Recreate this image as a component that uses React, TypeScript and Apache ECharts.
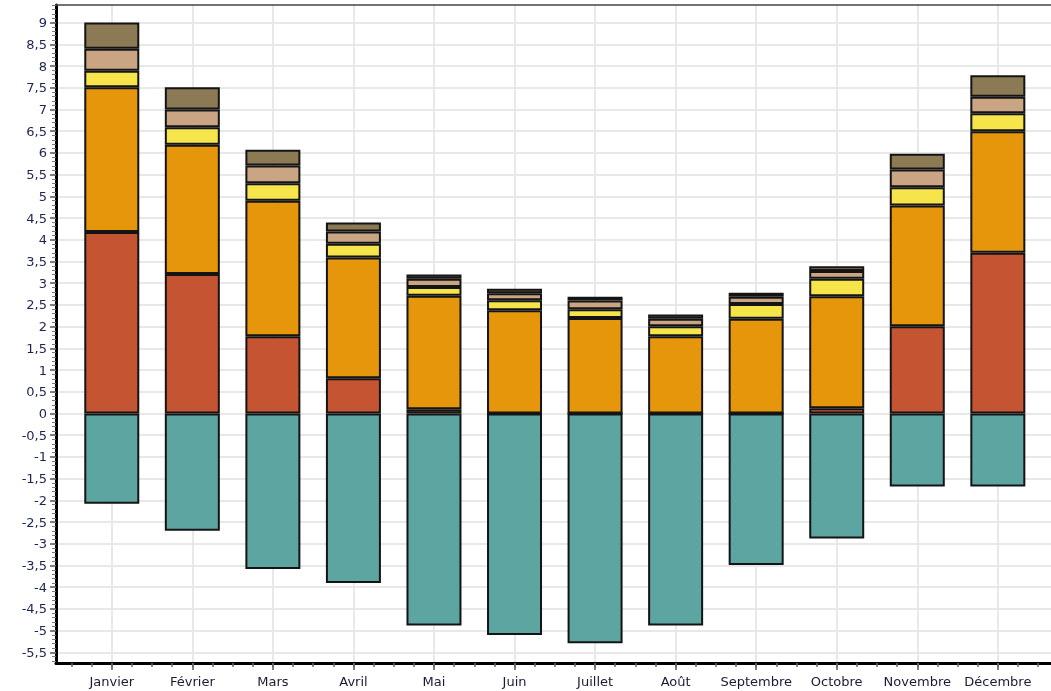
import React, { useEffect, useRef } from "react";
import * as echarts from "echarts";

const months = ["Janvier", "Février", "Mars", "Avril", "Mai", "Juin", "Juillet", "Août", "Septembre", "Octobre", "Novembre", "Décembre"];
const redValues = [4.18, 3.21, 1.78, 0.81, 0.10, 0, 0, 0, 0, 0.12, 2.01, 3.70];
const orangeValues = [3.33, 2.98, 3.12, 2.78, 2.61, 2.38, 2.20, 1.78, 2.18, 2.58, 2.78, 2.80];
const yellowValues = [0.38, 0.40, 0.40, 0.32, 0.20, 0.23, 0.20, 0.23, 0.34, 0.40, 0.42, 0.41];
const tanValues = [0.51, 0.41, 0.41, 0.28, 0.19, 0.16, 0.20, 0.17, 0.17, 0.18, 0.41, 0.38];
const oliveValues = [0.60, 0.51, 0.36, 0.21, 0.10, 0.10, 0.09, 0.10, 0.09, 0.11, 0.36, 0.50];
const tealValues = [-2.08, -2.70, -3.58, -3.90, -4.88, -5.10, -5.29, -4.88, -3.49, -2.88, -1.68, -1.68];
const yTicks = [-5.5, -5, -4.5, -4, -3.5, -3, -2.5, -2, -1.5, -1, -0.5, 0, 0.5, 1, 1.5, 2, 2.5, 3, 3.5, 4, 4.5, 5, 5.5, 6, 6.5, 7, 7.5, 8, 8.5, 9];

const FONT = "DejaVu Sans";

export default function App() {
  const ref = useRef<HTMLDivElement>(null);
  useEffect(() => {
    document.body.style.margin = "0";
    const chart = echarts.init(ref.current!, null, { renderer: "svg" });
    const xMajor = months.map((_, i) => i);
    const xMinor: number[] = [];
    for (let i = -2; i <= 47; i++) xMinor.push(i / 4);
    const yMinor: number[] = [];
    for (let i = -57; i <= 94; i++) yMinor.push(i / 10);

    const border = { borderColor: "#141414", borderWidth: 2 };
    const bar = (name: string, vals: number[], color: string) => ({
      type: "bar",
      name,
      stack: "all",
      stackStrategy: "samesign",
      barWidth: 55,
      xAxisIndex: 2,
      yAxisIndex: 2,
      data: vals,
      itemStyle: { ...border, color },
    });
    const series: any[] = [
      bar("r", redValues, "#c55433"),
      bar("o", orangeValues, "#e5960a"),
      bar("y", yellowValues, "#f5e54a"),
      bar("t", tanValues, "#c9a584"),
      bar("ol", oliveValues, "#8c7a55"),
      bar("te", tealValues, "#5da5a0"),
    ];

    const xMin = -0.693;
    const xMax = 11.66;
    const yMin = -5.744;
    const yMax = 9.405;

    chart.setOption({
      animation: false,
      grid: [
        { left: 56, right: 0, top: 5, bottom: 28 },
        { left: 71.5, right: 12.9, top: 5, bottom: 28 },
      ],
      xAxis: [
        {
          type: "value",
          gridIndex: 0,
          min: xMin,
          max: xMax,
          position: "bottom",
          axisLine: { show: true, onZero: false, lineStyle: { color: "#000", width: 3 } },
          axisTick: { show: true, customValues: xMajor, length: 7, lineStyle: { color: "#555", width: 1.5 } },
          axisLabel: {
            show: true,
            customValues: xMajor,
            margin: 12,
            fontFamily: FONT,
            fontSize: 13,
            color: "#1a1a33",
            formatter: (v: number) => months[Math.round(v)] ?? "",
          },
          splitLine: { show: true, lineStyle: { color: "#e8e8e8", width: 2 } },
        },
        {
          type: "value",
          gridIndex: 0,
          min: xMin,
          max: xMax,
          position: "bottom",
          axisLine: { show: false, onZero: false },
          axisTick: { show: true, customValues: xMinor, length: 4, lineStyle: { color: "#666", width: 1.5 } },
          axisLabel: { show: false },
          splitLine: { show: false },
        },
        {
          type: "category",
          gridIndex: 1,
          data: months,
          position: "bottom",
          axisLine: { show: false, onZero: false },
          axisTick: { show: false },
          axisLabel: { show: false },
          splitLine: { show: false },
        },
      ],
      yAxis: [
        {
          type: "value",
          gridIndex: 0,
          min: yMin,
          max: yMax,
          position: "left",
          axisLine: { show: true, onZero: false, lineStyle: { color: "#000", width: 3 } },
          axisTick: { show: true, customValues: yTicks, length: 6, lineStyle: { color: "#555", width: 1.5 } },
          axisLabel: {
            show: true,
            customValues: yTicks,
            margin: 9,
            fontFamily: FONT,
            fontSize: 13,
            color: "#1c2451",
            formatter: (v: number) => String(v).replace(".", ","),
          },
          splitLine: { show: true, lineStyle: { color: "#e8e8e8", width: 2 } },
        },
        {
          type: "value",
          gridIndex: 0,
          min: yMin,
          max: yMax,
          position: "left",
          axisLine: { show: false, onZero: false },
          axisTick: { show: true, customValues: yMinor, length: 4, lineStyle: { color: "#777", width: 1 } },
          axisLabel: { show: false },
          splitLine: { show: false },
        },
        {
          type: "value",
          gridIndex: 1,
          min: yMin,
          max: yMax,
          position: "left",
          axisLine: { show: false, onZero: false },
          axisTick: { show: false },
          axisLabel: { show: false },
          splitLine: { show: false },
        },
      ],
      series,
      graphic: [
        {
          type: "line",
          shape: { x1: 56, y1: 5, x2: 1051, y2: 5 },
          style: { stroke: "#444", lineWidth: 1.5 },
          z: 10,
        },
      ],
    });
    return () => chart.dispose();
  }, []);
  return <div ref={ref} style={{ position: "fixed", left: 0, top: 0, width: 1051, height: 691 }} />;
}
